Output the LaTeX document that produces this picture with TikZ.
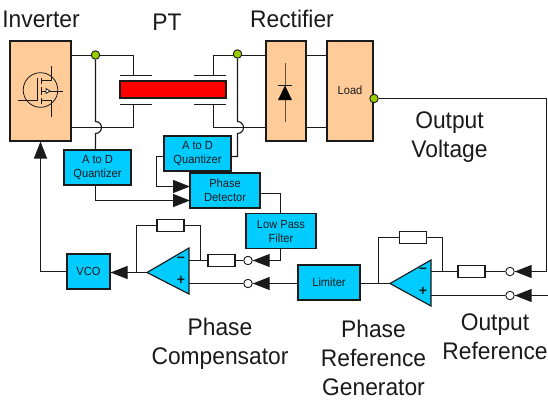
\documentclass[tikz,border=0pt]{standalone}
\usepackage{fontspec}
\setmainfont{Liberation Sans}
\newfontfamily\narrowfont[FakeStretch=0.95]{Liberation Sans}
\newfontfamily\smallfont[FakeStretch=0.94]{Liberation Sans}
\usetikzlibrary{arrows.meta}
\definecolor{peach}{HTML}{FFCC99}
\definecolor{cyanbox}{HTML}{00CCFF}
\definecolor{dotgreen}{HTML}{99CC00}
\definecolor{ink}{HTML}{1A1A1A}
\tikzset{
  wire/.style={draw=ink,line width=1.15pt},
  blockbox/.style={draw=ink,line width=1.15pt,fill=cyanbox,inner sep=0pt,align=center,text=ink,font=\smallfont\fontsize{11.8}{14}\selectfont},
  powerbox/.style={draw=ink,line width=1.15pt,fill=peach,inner sep=0pt,align=center,text=ink,font=\smallfont\fontsize{11.8}{14}\selectfont},
  resist/.style={draw=ink,line width=1.15pt,fill=white,minimum width=27pt,minimum height=11.5pt,inner sep=0pt},
  greendot/.style={circle,draw=ink,line width=.9pt,fill=dotgreen,minimum size=8.5pt,inner sep=0pt},
  opendot/.style={circle,draw=ink,line width=.9pt,fill=white,minimum size=8.5pt,inner sep=0pt},
  bigtext/.style={font=\narrowfont\fontsize{24}{29}\selectfont,align=center,inner sep=0pt,text=ink},
  tri/.style={-{Triangle[length=17pt,width=13pt]},draw=ink,line width=1.15pt},
  signtext/.style={font=\fontsize{14}{14}\selectfont\bfseries,text=ink}
}
\begin{document}
\begin{tikzpicture}[x=1pt,y=-1pt]
\useasboundingbox (0,0) rectangle (548,400);
% power stage
\node[powerbox,minimum width=61pt,minimum height=100pt] (inv) at (40.5,91) {};
\node[powerbox,minimum width=40pt,minimum height=100pt] (rect) at (286,91) {};
\node[powerbox,minimum width=46pt,minimum height=100pt] (load) at (350,91) {\raisebox{2pt}{Load}};
\coordinate (ct1) at (133.5,75.5); \coordinate (cb1) at (133.5,104.5);
\coordinate (ct2) at (213.5,75.5); \coordinate (cb2) at (213.5,104.5);
\draw[wire] (71,55.5) -| (ct1);
\draw[wire] (71,127.5) -| (cb1);
\draw[wire] (266,55.5) -| (ct2);
\draw[wire] (266,127.5) -| (cb2);
\draw[wire] (306,55.5) -- (327,55.5);
\draw[wire] (306,127.5) -- (327,127.5);
\draw[wire] (120,75.5) -- (152,75.5);
\draw[wire] (120,104.5) -- (152,104.5);
\draw[wire] (194,75.5) -- (226,75.5);
\draw[wire] (194,104.5) -- (226,104.5);
\node[draw=ink,line width=1.15pt,fill=red,minimum width=106pt,minimum height=17pt,inner sep=0pt] (pt) at (173,89.5) {};
% mosfet
\draw[ink,line width=.8pt] (40.5,90) circle (17.3);
\draw[ink,line width=.8pt] (18,100.5) -- (37,100.5) -- (37,78)
  (41,78) -- (41,84) (41,87) -- (41,95) (41,98) -- (41,104)
  (41,80) -- (51,80) -- (51,66) (41,100) -- (51,100) -- (51,117) (41,91) -- (63,91);
\draw[ink,line width=.8pt,fill=white] (46,88.5) -- (46,93.5) -- (50,91) -- cycle;
% diode
\draw[ink!70!peach,line width=.9pt] (285,63) -- (285,122);
\fill[black] (285,85.5) -- (278,100) -- (292,100) -- cycle;
\draw[ink,line width=1pt] (278,85.5) -- (292,85.5);
% blocks
\node[blockbox,minimum width=67pt,minimum height=35pt] (q1) at (97.5,167.5) {A to D\\Quantizer};
\node[blockbox,minimum width=67pt,minimum height=35pt] (q2) at (197.5,153.5) {A to D\\Quantizer};
\node[blockbox,minimum width=70pt,minimum height=35pt] (pd) at (225,190.5) {Phase\\Detector};
\node[blockbox,minimum width=70pt,minimum height=35pt] (lpf) at (281,231) {Low Pass\\Filter};
\node[blockbox,minimum width=43pt,minimum height=35pt] (vco) at (88.5,271.5) {VCO};
\node[blockbox,minimum width=62pt,minimum height=35pt] (lim) at (329,282.5) {Limiter};
% sense lines
\node[greendot] (d1) at (95.5,55) {};
\node[greendot] (d2) at (237.5,54) {};
\node[greendot] (d3) at (374,98.5) {};
\draw[wire] (d1) -- (95.5,121.5) arc[start angle=-90,end angle=90,radius=6] -- (95.5,150);
\draw[wire] (d2) -- (237.5,121.5) arc[start angle=-90,end angle=90,radius=6] -- (237.5,156.5) -- (231,156.5);
\coordinate (pdin1) at (190,186.5);
\coordinate (pdin2) at (190,200.5);
\draw[wire] (164,156.5) -- (156.5,156.5) |- (pdin1);
\draw[wire] (95.5,185) |- (pdin2);
\draw[tri] (175,186.5) -- (pdin1);
\draw[tri] (175,200.5) -- (pdin2);
\draw[wire] (260,193.5) -| (280.5,213.5);
% phase compensator
\coordinate (a1m) at (189,260.5); \coordinate (a1p) at (189,283.5); \coordinate (a1o) at (147,272.5);
\draw[draw=ink,line width=1.15pt,fill=cyanbox] (189,248) -- (189,294) -- (147,272.5) -- cycle;
\node[signtext] (a1mt) at (181,260) {−};
\node[signtext] (a1pt) at (181,280.5) {+};
\node[resist] (r1f) at (170.5,225.5) {};
\node[resist] (r1i) at (221.5,260.5) {};
\node[opendot] (c1) at (248,260.5) {};
\node[opendot] (c2) at (248,283.5) {};
\draw[wire] (a1o) -- (110,272.5);
\draw[tri] (128,272.5) -- (vco.east |- 0,272.5);
\draw[wire] (136.5,272.5) |- (r1f);
\draw[wire] (r1f) -| (200.5,260.5);
\draw[wire] (a1m) -- (r1i);
\draw[wire] (r1i) -- (c1);
\draw[wire] (a1p) -- (c2);
\draw[wire] (280.5,248.5) |- (c1);
\draw[wire] (lim.west |- c2) -- (c2);
\draw[tri] (270,260.5) -- (c1);
\draw[tri] (270,283.5) -- (c2);
\draw[wire] (vco.west) -- (40.5,271.5) -- (40.5,150);
\draw[tri] (40.5,159) -- (40.5,141.5);
% phase reference generator
\coordinate (a2m) at (431,271.5); \coordinate (a2p) at (431,295.5); \coordinate (a2o) at (390,283.5);
\draw[draw=ink,line width=1.15pt,fill=cyanbox] (431,260) -- (431,306) -- (390,283.5) -- cycle;
\node[signtext] (a2mt) at (423,271) {−};
\node[signtext] (a2pt) at (423,291) {+};
\node[resist] (r2f) at (413,237.5) {};
\node[resist] (r2i) at (471.5,271.5) {};
\node[opendot] (c3) at (510,271.5) {};
\node[opendot] (c4) at (510,295.5) {};
\draw[wire] (lim.east |- a2o) -- (a2o);
\draw[wire] (378.5,283.5) |- (r2f);
\draw[wire] (r2f) -| (442.5,271.5);
\draw[wire] (a2m) -- (r2i);
\draw[wire] (r2i) -- (c3);
\draw[wire] (a2p) -- (c4);
\draw[wire] (d3) -- (546.5,98.5) |- (c3);
\coordinate (refin) at (548,295.5);
\draw[wire] (refin) -- (c4);
\draw[tri] (532,271.5) -- (c3);
\draw[tri] (532,295.5) -- (c4);
% labels
\node[bigtext] (tinv) at (41,19) {Inverter};
\node[bigtext] (tpt) at (167,22.5) {PT};
\node[bigtext] (trect) at (292,19) {Rectifier};
\node[bigtext] (tout) at (449.5,137) {Output\\Voltage};
\node[bigtext] (tcomp) at (220,343.5) {Phase\\Compensator};
\node[bigtext] (tgen) at (373.5,358) {Phase\\Reference\\Generator};
\node[bigtext] (tref) at (495,337) {Output\\Reference};
\end{tikzpicture}
\end{document}
